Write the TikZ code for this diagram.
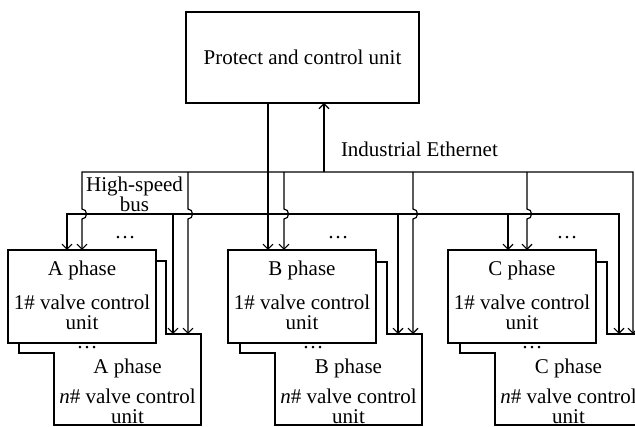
\documentclass[tikz,border=0pt]{standalone}
\usepackage{fontspec}
\setmainfont{Liberation Serif}
\usetikzlibrary{arrows.meta,calc,positioning}

\begin{document}
\begin{tikzpicture}[
    x=1pt, y=-1pt,
    >={Straight Barb[length=5pt,width=10pt,line width=1.1pt]},
    every node/.style={font=\fontsize{21}{20}\selectfont, inner sep=0pt, outer sep=0pt},
    unitbox/.style={
        draw,
        fill=white,
        line width=1.2pt,
        anchor=north west,
        minimum width=148pt,
        minimum height=93pt
    },
    hidbox/.style 2 args={anchor=north west, minimum width=#1, minimum height=#2},
    stackline/.style={line width=1.2pt, fill=white},
    unittext/.style={align=center},
    busline/.style={line width=2.3pt},
    ethline/.style={line width=1.2pt}
]
\useasboundingbox (0,0) rectangle (635,427);

% ---- bus / ethernet tap points (pixel grid, y downward) ----
\coordinate (busL)  at (67,214);
\coordinate (busR)  at (619,214);
\coordinate (busAn) at (173,214);
\coordinate (busB1) at (268,214);
\coordinate (busBn) at (398,214);
\coordinate (busC1) at (508,214);
\coordinate (ethL)  at (82,172);
\coordinate (ethR)  at (633,172);
\coordinate (ethUp) at (324,172);
\coordinate (ethAn) at (188,172);
\coordinate (ethB1) at (284,172);
\coordinate (ethBn) at (413,172);
\coordinate (ethC1) at (527,172);

% ---- protect and control unit ----
\node[unitbox, minimum width=233pt, minimum height=91pt]
    (pcu) at (186,12) {Protect and control unit};

% ---- A phase ----
\node[hidbox={147pt}{92pt}] (Aback) at (19,261) {};
\node[hidbox={147pt}{91pt}] (An) at (54,334) {};
\draw[stackline] (Aback.north west) -- (Aback.north east) -- (Aback.east |- An.north)
    -- (An.north east) -- (An.south east) -- (An.south west)
    -- (An.west |- Aback.south) -- (Aback.south west) -- cycle;
\node[unitbox] (A1) at (8,250) {};
\node[unittext, below=10.5pt] (A1txt) at (A1.north)
    {A phase\\[14pt]1\# valve control\\unit};
\node[unittext, below=24.7pt] (Antxt) at (An.north)
    {A phase\\[10pt]\textit{n}\# valve control\\unit};
\node[anchor=base] (Adots) at (125,239) {\dots};
\node[anchor=base] (Andots) at (87,349) {\dots};

% ---- B phase ----
\node[hidbox={147pt}{91pt}] (Bback) at (240,262) {};
\node[hidbox={147pt}{91pt}] (Bn) at (275,334) {};
\draw[stackline] (Bback.north west) -- (Bback.north east) -- (Bback.east |- Bn.north)
    -- (Bn.north east) -- (Bn.south east) -- (Bn.south west)
    -- (Bn.west |- Bback.south) -- (Bback.south west) -- cycle;
\node[unitbox] (B1) at (228,250) {};
\node[unittext, below=10.5pt] (B1txt) at (B1.north)
    {B phase\\[14pt]1\# valve control\\unit};
\node[unittext, below=24.7pt] (Bntxt) at (Bn.north)
    {B phase\\[10pt]\textit{n}\# valve control\\unit};
\node[anchor=base] (Bdots) at (338,239) {\dots};
\node[anchor=base] (Bndots) at (313,349) {\dots};

% ---- C phase ----
\node[hidbox={147pt}{91pt}] (Cback) at (460,262) {};
\node[hidbox={147pt}{91pt}] (Cn) at (495,334) {};
\draw[stackline] (Cback.north west) -- (Cback.north east) -- (Cback.east |- Cn.north)
    -- (Cn.north east) -- (Cn.south east) -- (Cn.south west)
    -- (Cn.west |- Cback.south) -- (Cback.south west) -- cycle;
\node[unitbox] (C1) at (448,250) {};
\node[unittext, below=10.5pt] (C1txt) at (C1.north)
    {C phase\\[14pt]1\# valve control\\unit};
\node[unittext, below=24.7pt] (Cntxt) at (Cn.north)
    {C phase\\[10pt]\textit{n}\# valve control\\unit};
\node[anchor=base] (Cdots) at (567,239) {\dots};
\node[anchor=base] (Cndots) at (532,349) {\dots};

% ---- high-speed bus (thick) ----
\draw[busline,<->] (A1.north -| busL) -- (busL) -- (busR) -- (Cn.north -| busR);
\draw[busline,->] (busAn) -- (An.north -| busAn);
\draw[busline,->] (pcu.south -| busB1) -- (B1.north -| busB1);
\draw[busline,->] (busBn) -- (Bn.north -| busBn);
\draw[busline,->] (busC1) -- (C1.north -| busC1);

% ---- industrial ethernet (thin, jumps over the bus) ----
\draw[ethline,<->] (Cn.north -| ethR) -- (ethR) -- (ethL)
    -- ($(ethL |- busL)+(0,-5)$) .. controls +(6,0) and +(6,0) .. ($(ethL |- busL)+(0,5)$)
    -- (A1.north -| ethL);
\draw[ethline,->] (ethUp) -- (pcu.south -| ethUp);
\draw[ethline,->] (ethAn)
    -- ($(ethAn |- busL)+(0,-5)$) .. controls +(6,0) and +(6,0) .. ($(ethAn |- busL)+(0,5)$)
    -- (An.north -| ethAn);
\draw[ethline,->] (ethB1)
    -- ($(ethB1 |- busL)+(0,-5)$) .. controls +(6,0) and +(6,0) .. ($(ethB1 |- busL)+(0,5)$)
    -- (B1.north -| ethB1);
\draw[ethline,->] (ethBn)
    -- ($(ethBn |- busL)+(0,-5)$) .. controls +(6,0) and +(6,0) .. ($(ethBn |- busL)+(0,5)$)
    -- (Bn.north -| ethBn);
\draw[ethline,->] (ethC1)
    -- ($(ethC1 |- busL)+(0,-5)$) .. controls +(6,0) and +(6,0) .. ($(ethC1 |- busL)+(0,5)$)
    -- (C1.north -| ethC1);

% ---- labels ----
\node[anchor=base west] (ethlbl) at (341,157) {Industrial Ethernet};
\node[align=center, anchor=north] (buslbl) at (134.5,177) {High-speed\\bus};

\end{tikzpicture}
\end{document}
